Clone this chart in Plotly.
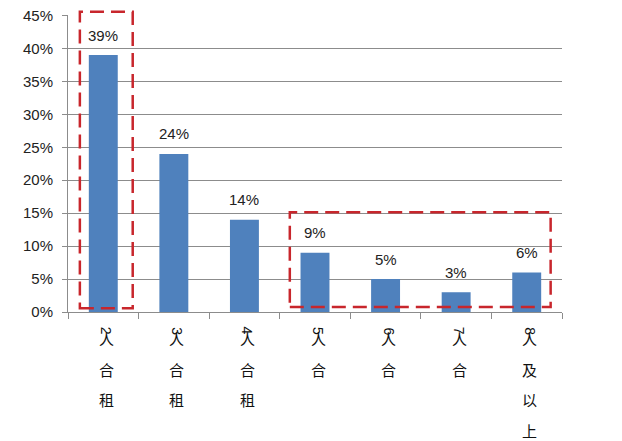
import plotly.graph_objects as go

# data
categories = ["2人合租", "3人合租", "4人合租", "5人合", "6人合", "7人合", "8人及以上"]
shares = [39, 24, 14, 9, 5, 3, 6]
y_ticks = [0, 5, 10, 15, 20, 25, 30, 35, 40, 45]
y_tick_labels = ["0%", "5%", "10%", "15%", "20%", "25%", "30%", "35%", "40%", "45%"]

bar_color = "#4F81BD"
grid_color = "#8C8C8C"
red = "#C8262C"
latin_font = "Liberation Sans"
cjk_font = "Noto Sans CJK SC"

fig = go.Figure()
fig.add_trace(go.Bar(x=list(range(len(categories))), y=shares,
                     marker=dict(color=bar_color, line=dict(width=0)),
                     hoverinfo="skip"))

# value labels above the bars
for i, v in enumerate(shares):
    fig.add_annotation(x=i, y=v, text="%d%%" % v, showarrow=False,
                       yanchor="middle", yshift=20,
                       font=dict(family=latin_font, size=15, color="#222"))

# vertical category labels: digit turned on its side over the first char,
# then one char per row
char_shifts = [-26, -57, -87, -118]
for i, lab in enumerate(categories):
    digit, chars = lab[0], lab[1:]
    for k, ch in enumerate(chars):
        fig.add_annotation(x=i, xshift=3, y=0, yref="paper", yshift=char_shifts[k],
                           text=ch, showarrow=False, yanchor="middle",
                           font=dict(family=cjk_font, size=15, color="#111"))
    fig.add_annotation(x=i, xshift=3, y=0, yref="paper", yshift=-19,
                       yanchor="middle", text=digit, textangle=90, showarrow=False,
                       font=dict(family=latin_font, size=14, color="#111"))

# red dashed highlight boxes (paper coords so they are not clipped)
box_line = dict(color=red, width=2.5, dash="14px,7px")
fig.add_shape(type="rect", xref="paper", yref="paper",
              x0=0.024, x1=0.131, y0=0.013, y1=1.011,
              line=box_line, layer="above")
fig.add_shape(type="rect", xref="paper", yref="paper",
              x0=0.449, x1=0.977, y0=0.017, y1=0.336,
              line=box_line, layer="above")

fig.update_xaxes(range=[-0.5, 6.5], tickmode="array",
                 tickvals=[i - 0.5 for i in range(len(categories) + 1)],
                 ticktext=[""] * (len(categories) + 1),
                 ticks="outside", ticklen=6, tickcolor=grid_color,
                 showline=True, linecolor=grid_color, linewidth=1,
                 showgrid=False, zeroline=False, fixedrange=True,
                 automargin=False)
# top of range nudged past 45 so its gridline is still drawn
fig.update_yaxes(range=[0, 45.08], tickmode="array", tickvals=y_ticks,
                 ticktext=y_tick_labels, ticks="outside", ticklen=5,
                 tickcolor=grid_color, ticklabelstandoff=6,
                 showline=True, linecolor=grid_color, linewidth=1,
                 showgrid=True, gridcolor=grid_color, gridwidth=1,
                 zeroline=False, fixedrange=True, automargin=False,
                 tickfont=dict(family=latin_font, size=15, color="#222"))

fig.update_layout(width=622, height=441, bargap=0.59, showlegend=False,
                  plot_bgcolor="white", paper_bgcolor="white",
                  margin=dict(l=68, r=60, t=15, b=129))

# drop the default body margin so the figure sits at the window corner
fig.write_html("out.html", config={"displayModeBar": False},
               post_script="document.body.style.margin='0';")
